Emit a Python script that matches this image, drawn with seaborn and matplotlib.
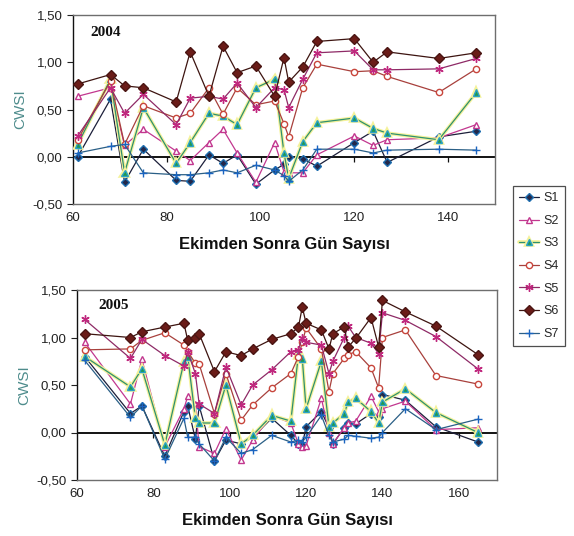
import matplotlib
matplotlib.use('Agg')
import matplotlib.pyplot as plt
import matplotlib.patheffects as pe
from matplotlib.ticker import FuncFormatter, MultipleLocator
import seaborn as sns

# --- DATA ---
SERIES = ['S1', 'S2', 'S3', 'S4', 'S5', 'S6', 'S7']

days_2004 = [61, 68, 71, 75, 82, 85, 89, 92, 95, 99, 103, 105, 106, 109, 112, 120, 124, 127, 138, 146]
s1_2004 = [0.00, 0.61, -0.27, 0.08, -0.25, -0.26, 0.02, -0.07, 0.02, -0.29, -0.14, -0.08, 0.00, -0.02, -0.10, 0.15, 0.27, -0.06, 0.21, 0.27]
s2_2004 = [0.64, 0.73, 0.12, 0.29, 0.06, -0.04, 0.15, 0.29, 0.04, -0.27, 0.15, -0.16, -0.17, -0.17, 0.02, 0.22, 0.12, 0.18, 0.20, 0.34]
s3_2004 = [0.13, 0.82, -0.17, 0.52, -0.07, 0.15, 0.46, 0.43, 0.34, 0.73, 0.82, 0.04, -0.23, 0.16, 0.36, 0.41, 0.30, 0.25, 0.18, 0.68]
s4_2004 = [0.18, 0.80, 0.13, 0.54, 0.41, 0.46, 0.73, 0.45, 0.73, 0.55, 0.59, 0.35, 0.21, 0.73, 0.98, 0.90, 0.91, 0.85, 0.68, 0.93]
s5_2004 = [0.22, 0.73, 0.46, 0.66, 0.34, 0.62, 0.64, 0.61, 0.78, 0.52, 0.73, 0.71, 0.52, 0.82, 1.10, 1.12, 0.92, 0.92, 0.93, 1.04]
s6_2004 = [0.77, 0.87, 0.75, 0.73, 0.58, 1.11, 0.64, 1.17, 0.89, 0.96, 0.64, 1.05, 0.79, 0.95, 1.22, 1.25, 1.00, 1.11, 1.04, 1.10]
s7_2004 = [0.04, 0.11, 0.13, -0.17, -0.19, -0.19, -0.17, -0.14, -0.17, -0.09, -0.14, -0.20, -0.26, -0.14, 0.08, 0.08, 0.04, 0.07, 0.08, 0.07]

days_2005 = [62, 74, 77, 83, 88, 89, 91, 92, 96, 99, 103, 106, 111, 116, 118, 119, 120, 124, 126, 127, 130, 131, 133, 137, 139, 140, 146, 154, 165]
s1_2005 = [0.80, 0.20, 0.28, -0.25, 0.22, 0.28, -0.07, 0.28, -0.30, -0.08, -0.12, -0.05, 0.15, -0.03, -0.12, -0.13, 0.06, 0.22, 0.05, -0.12, 0.05, 0.10, 0.09, 0.20, 0.16, 0.40, 0.34, 0.06, -0.10]
s2_2005 = [0.95, 0.30, 0.77, -0.15, 0.25, 0.38, 0.30, -0.15, -0.22, 0.04, -0.29, -0.08, 0.18, 0.10, -0.12, -0.15, -0.14, 0.36, 0.00, -0.12, 0.05, 0.10, 0.12, 0.38, 0.22, 0.25, 0.33, 0.03, 0.05]
s3_2005 = [0.80, 0.48, 0.67, -0.13, 0.74, 0.80, 0.15, 0.10, 0.10, 0.50, -0.12, -0.03, 0.18, 0.12, 0.82, 0.78, 0.25, 0.75, 0.06, 0.10, 0.20, 0.32, 0.36, 0.22, 0.10, 0.32, 0.46, 0.21, 0.00]
s4_2005 = [0.87, 0.88, 0.97, 1.05, 0.92, 0.85, 0.73, 0.72, 0.20, 0.62, 0.13, 0.29, 0.47, 0.62, 0.80, 0.95, 1.10, 0.88, 0.43, 0.62, 0.78, 0.82, 0.85, 0.68, 0.47, 1.00, 1.08, 0.60, 0.51]
s5_2005 = [1.19, 0.78, 0.98, 0.81, 0.70, 0.85, 0.62, 0.30, 0.20, 0.69, 0.29, 0.50, 0.66, 0.85, 0.87, 1.00, 0.95, 0.92, 0.62, 0.75, 1.00, 1.12, 1.00, 0.94, 0.83, 1.26, 1.18, 1.01, 0.67]
s6_2005 = [1.04, 1.00, 1.06, 1.11, 1.15, 0.97, 0.99, 1.04, 0.64, 0.85, 0.81, 0.88, 0.98, 1.04, 1.11, 1.32, 1.15, 1.08, 0.88, 1.04, 1.11, 0.90, 0.99, 1.21, 0.90, 1.39, 1.27, 1.12, 0.82]
s7_2005 = [0.76, 0.16, 0.28, -0.28, 0.15, -0.05, -0.05, -0.12, -0.30, -0.05, -0.22, -0.18, -0.03, -0.10, -0.08, -0.10, -0.05, 0.18, -0.03, -0.10, -0.07, -0.03, -0.04, -0.06, -0.05, 0.00, 0.25, 0.03, 0.14]

YEARS = ['2004', '2005']
XTICKS_2004 = [60, 80, 100, 120, 140]
XTICKS_2005 = [60, 80, 100, 120, 140, 160]
XLABEL = 'Ekimden Sonra Gün Sayısı'
YLABEL = 'CWSI'

# --- STYLES (Excel-like, scanned look) ---
STYLE = {
    'S1': dict(color='#1c1f3a', marker='D', ms=4, mfc='#23284a', mec='#1f6fb0'),
    'S2': dict(color='#c2378f', marker='^', ms=5, mfc='white', mec='#c2378f'),
    'S3': dict(color='#2f8f6f', marker='^', ms=4.5, mfc='#1f9a4e', mec='#2aa0c8', halo='#f4f29a'),
    'S4': dict(color='#a8403c', marker='o', ms=4.5, mfc='white', mec='#c8463c'),
    'S5': dict(color='#8e2a66', marker=(6, 2, 0), ms=6, mfc='#c0287e', mec='#c0287e'),
    'S6': dict(color='#3d1410', marker='D', ms=5, mfc='#6a1c18', mec='#4a1512'),
    'S7': dict(color='#2a5f86', marker='+', ms=6, mfc='#1a64c0', mec='#1a64c0'),
}

sns.set_style('white')
plt.rcParams['font.family'] = ['Liberation Sans', 'DejaVu Sans']

fig = plt.figure(figsize=(5.74, 5.36), dpi=100)
ax_top = fig.add_axes([73 / 574, 1 - 204 / 536, 422 / 574, 189 / 536])
ax_bot = fig.add_axes([77 / 574, 1 - 480 / 536, 420 / 574, 190 / 536])

panels = [
    (ax_top, days_2004, [s1_2004, s2_2004, s3_2004, s4_2004, s5_2004, s6_2004, s7_2004], (60, 150), XTICKS_2004, YEARS[0], (0.04, 0.89)),
    (ax_bot, days_2005, [s1_2005, s2_2005, s3_2005, s4_2005, s5_2005, s6_2005, s7_2005], (60, 170), XTICKS_2005, YEARS[1], (0.05, 0.90)),
]

yfmt = FuncFormatter(lambda v, p: f'{v:.2f}'.replace('.', ','))

for ax, days, values, xlim, xticks, year, ypos in panels:
    for name, vals in zip(SERIES, values):
        st = STYLE[name]
        effects = None
        if 'halo' in st:
            effects = [pe.Stroke(linewidth=2.6, foreground=st['halo']), pe.Normal()]
        sns.lineplot(x=days, y=vals, ax=ax, color=st['color'], linewidth=0.9,
                     marker=st['marker'], markersize=st['ms'],
                     markerfacecolor=st['mfc'], markeredgecolor=st['mec'],
                     markeredgewidth=1.0, label=name, path_effects=effects,
                     sort=False, zorder=3)
    ax.axhline(0, color='black', linewidth=1.3, zorder=2)
    ax.set_xlim(*xlim)
    ax.set_ylim(-0.5, 1.5)
    ax.yaxis.set_major_locator(MultipleLocator(0.5))
    ax.yaxis.set_major_formatter(yfmt)
    ax.set_xticks(xticks)
    ax.tick_params(axis='x', length=0, labelsize=9.5, pad=6, colors='#222222')
    ax.tick_params(axis='y', direction='out', length=4, width=0.8, left=True,
                   labelsize=9.5, colors='#222222')
    for side in ['top', 'right', 'bottom']:
        ax.spines[side].set_color('#6e6e6e')
        ax.spines[side].set_linewidth(1.0)
    ax.spines['left'].set_color('#111111')
    ax.spines['left'].set_linewidth(1.0)
    # small tick marks on the zero line, as in Excel
    sec = ax.secondary_xaxis(0.25)
    sec.set_xticks(xticks[1:])
    sec.tick_params(axis='x', direction='out', length=3.5, width=0.9, labelbottom=False, colors='#111111')
    sec.spines['bottom'].set_visible(False)
    ax.text(ypos[0], ypos[1], year, transform=ax.transAxes, fontsize=11,
            fontweight='bold', family=['Liberation Serif', 'DejaVu Serif'], color='#111111')
    ax.set_xlabel(XLABEL, fontsize=12, fontweight='bold', color='#111111', labelpad=9)
    ax.set_ylabel(YLABEL, fontsize=11, color='#4e8c8c', labelpad=4)
    ax.legend_.remove()

handles, labels = ax_top.get_legend_handles_labels()
leg = fig.legend(handles, labels, loc='upper left', bbox_to_anchor=(513 / 574, 1 - 186 / 536),
                 frameon=True, fancybox=False, edgecolor='#222222', fontsize=9,
                 handlelength=1.6, handletextpad=0.3, labelspacing=0.85,
                 borderpad=0.5, borderaxespad=0)
leg.get_frame().set_linewidth(0.9)

fig.savefig('out.png', dpi=100, facecolor='white')
